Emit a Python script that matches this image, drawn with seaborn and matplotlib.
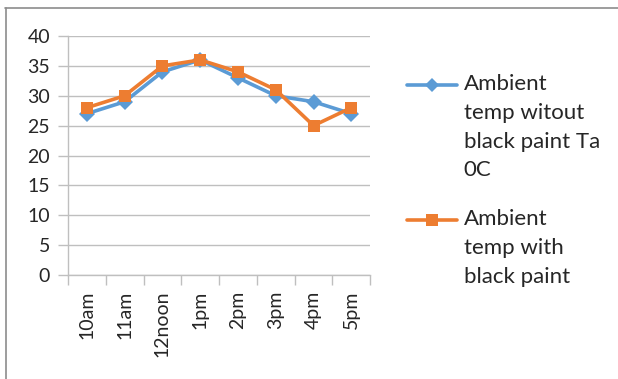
import matplotlib
matplotlib.use("Agg")
import matplotlib.pyplot as plt
from matplotlib.lines import Line2D
import seaborn as sns
import pandas as pd

times = ["10am", "11am", "12noon", "1pm", "2pm", "3pm", "4pm", "5pm"]
temp_no_paint = [27, 29, 34, 36, 33, 30, 29, 27]
temp_black_paint = [28, 30, 35, 36, 34, 31, 25, 28]
series_labels = [
    "Ambient\ntemp witout\nblack paint Ta\n0C",
    "Ambient\ntemp with\nblack paint",
]
y_ticks = [0, 5, 10, 15, 20, 25, 30, 35, 40]

BLUE = "#5B9BD5"
ORANGE = "#ED7D31"
GRID = "#BFBFBF"
TEXT = "#262626"

sns.set_theme(style="white")
plt.rcParams["font.family"] = ["Lato", "DejaVu Sans"]

df = pd.DataFrame({
    "time": times * 2,
    "temp": temp_no_paint + temp_black_paint,
    "series": ["no_paint"] * len(times) + ["black_paint"] * len(times),
})

fig = plt.figure(figsize=(6.18, 3.79), dpi=100)
ax = fig.add_axes([0.110, 0.2744, 0.489, 0.6306])

sns.lineplot(
    data=df, x="time", y="temp", hue="series", style="series",
    palette={"no_paint": BLUE, "black_paint": ORANGE},
    markers={"no_paint": "D", "black_paint": "s"},
    dashes=False, linewidth=2.6, markersize=8, markeredgewidth=0,
    legend=False, ax=ax,
)

ax.set_xlim(-0.5, len(times) - 0.5)
ax.set_ylim(0, 40)
ax.set_yticks(y_ticks)
ax.set_xticks(range(len(times)))
ax.set_xticklabels(times, rotation=90)
ax.set_xticks([i - 0.5 for i in range(len(times) + 1)], minor=True)
ax.set_xlabel("")
ax.set_ylabel("")

ax.grid(axis="y", color=GRID, linewidth=1)
ax.set_axisbelow(True)
for side in ["top", "right"]:
    ax.spines[side].set_visible(False)
for side in ["left", "bottom"]:
    ax.spines[side].set_color(GRID)
    ax.spines[side].set_linewidth(1)

ax.tick_params(axis="y", which="major", length=7, width=1, color=GRID,
               labelsize=14, labelcolor=TEXT, pad=6, left=True)
ax.tick_params(axis="x", which="major", length=0, labelsize=14,
               labelcolor=TEXT, pad=11)
ax.tick_params(axis="x", which="minor", length=7, width=1, color=GRID,
               bottom=True)

# Legend at the right: handle beside the first line of each wrapped label
entries = [
    (BLUE, "D", 7, series_labels[0], 1 - 85 / 379, 1 - 74 / 379),
    (ORANGE, "s", 8, series_labels[1], 1 - 220 / 379, 1 - 209 / 379),
]
for color, marker, msize, label, y_handle, y_text in entries:
    fig.add_artist(Line2D([0.659, 0.739], [y_handle, y_handle],
                          transform=fig.transFigure, color=color, linewidth=2.6))
    fig.add_artist(Line2D([0.699], [y_handle], transform=fig.transFigure,
                          color=color, marker=marker, markersize=msize,
                          markeredgewidth=0, linestyle="none"))
    fig.text(0.750, y_text, label, transform=fig.transFigure, fontsize=16,
             color=TEXT, va="top", ha="left", linespacing=1.55)

# Outer frame lines along the top and left edges
fig.add_artist(Line2D([0.008, 1.0], [0.978, 0.978], transform=fig.transFigure,
                      color="#8C8C8C", linewidth=1.2))
fig.add_artist(Line2D([0.009, 0.009], [0.0, 0.978], transform=fig.transFigure,
                      color="#8C8C8C", linewidth=1.2))

fig.savefig("out.png", dpi=100, facecolor="white")
